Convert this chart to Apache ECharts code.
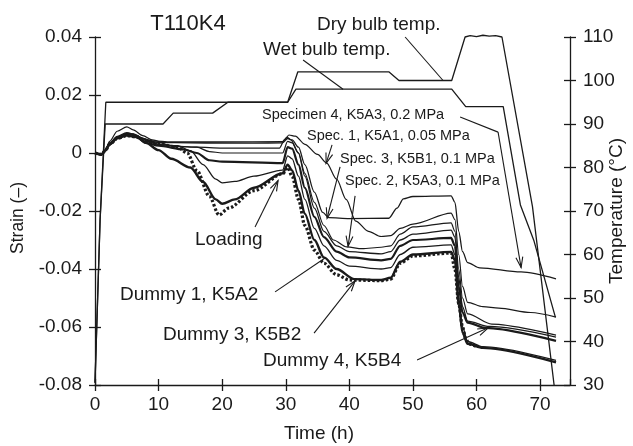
<!DOCTYPE html>
<html>
<head>
<meta charset="utf-8">
<script src="https://cdn.jsdelivr.net/npm/echarts@6/dist/echarts.min.js"></script>
<style>
  html, body { margin: 0; padding: 0; background: #fff; }
  #chart { width: 633px; height: 446px; }
</style>
</head>
<body>
<div id="chart"></div>
<script>
// ---- axis ticks ----
const timeTicks = [0, 10, 20, 30, 40, 50, 60, 70];
const strainTicks = [-0.08, -0.06, -0.04, -0.02, 0, 0.02, 0.04];
const tempTicks = [30, 40, 50, 60, 70, 80, 90, 100, 110];
const timeMax = 74.7;

// ---- temperature histories [time h, °C] ----
const dryBulb = [[0, 30.5], [0.8, 68], [1.7, 95], [30.3, 95], [31.9, 102], [46.2, 102], [47.8, 100],
  [56.1, 100], [58.2, 110], [59, 110.3], [60, 110.1], [61, 110.4], [62, 110.2], [63, 110.3], [64, 110],
  [68.8, 71], [72.2, 30]];
const wetBulb = [[0, 30.5], [0.8, 68], [1.6, 90], [10.7, 90], [12.3, 92.5], [18.5, 92.5], [20.9, 95],
  [30.3, 95], [31.6, 98], [56.1, 98], [58.3, 94], [64.2, 94], [66.9, 71.4], [69, 63.3], [72.4, 45.6]];

// ---- strain histories [time h, strain] ----
const spec3 = [[0, 0], [1, -0.0005], [1.6, 0.001], [2.3, 0.0035], [3.5, 0.0052], [5, 0.0062], [6, 0.0065],
  [7, 0.0055], [8.5, 0.0042], [10, 0.0036], [15, 0.0035], [20, 0.0034], [25, 0.0034], [29.5, 0.0035],
  [30.3, 0.005], [31, 0.0045], [32, 0.002], [33, -0.004], [34.5, -0.0135], [35.8, -0.0205], [36.8, -0.0223],
  [40, -0.0226], [46.2, -0.0225], [47.5, -0.019], [48.5, -0.0158], [50, -0.015], [56, -0.0148],
  [56.6, -0.017], [57.2, -0.027], [57.8, -0.034], [58.6, -0.0378], [60.5, -0.0396], [67, -0.041], [72.5, -0.0434]];
const spec1 = [[0, 0], [1, -0.0005], [1.6, 0.001], [2.3, 0.004], [3.5, 0.0075], [5, 0.009], [6, 0.008],
  [7.5, 0.006], [9, 0.0045], [12, 0.0025], [16, 0.002], [20, 0.0017], [29, 0.0017], [29.8, 0.0045],
  [30.5, 0.0062], [31.5, 0.0058], [33, 0.003], [35, -0.0005], [36.4, -0.0034], [38, -0.009], [39.5, -0.016],
  [41, -0.0235], [43, -0.027], [45, -0.0288], [46.5, -0.0285], [48, -0.026], [50, -0.0245], [56, -0.0207],
  [56.6, -0.023], [57.2, -0.035], [57.8, -0.046], [58.6, -0.0515], [61, -0.053], [63.5, -0.0535],
  [68.5, -0.055], [72.5, -0.0566]];
const spec2 = [[0, 0], [1, -0.0005], [1.6, 0.0008], [2.3, 0.003], [3.5, 0.005], [5, 0.0065], [6.5, 0.006],
  [8, 0.0045], [10, 0.003], [13, 0.0022], [16, 0.002], [18, 0.0005], [20, 0], [29.5, 0], [30.3, 0.004],
  [31, 0.0035], [32, 0], [33, -0.007], [34.5, -0.017], [36, -0.025], [37.5, -0.03], [39.6, -0.0324],
  [42, -0.033], [45, -0.0325], [46.5, -0.032], [48, -0.028], [50, -0.0255], [56, -0.0241], [56.6, -0.027],
  [57.2, -0.04], [57.8, -0.05], [58.6, -0.0555], [62.4, -0.059], [72.5, -0.0628]];
const specimen4 = [[0, 0], [1, -0.0005], [1.6, 0.001], [2.3, 0.0035], [3.5, 0.0055], [5, 0.0068], [6, 0.0066],
  [7.5, 0.005], [9, 0.0042], [12, 0.0038], [20, 0.0038], [29.5, 0.0039], [30.2, 0.0055], [30.8, 0.0045],
  [32, 0], [33, -0.008], [34.5, -0.019], [36, -0.027], [38, -0.032], [40, -0.034], [45, -0.0348],
  [46.5, -0.034], [48, -0.03], [50, -0.028], [56, -0.0266], [56.6, -0.029], [57.2, -0.043], [57.8, -0.053],
  [58.6, -0.058], [62, -0.0598], [72.5, -0.0635]];
const dummy4 = [[0, 0], [1, -0.0005], [1.6, 0.0008], [2.3, 0.003], [3.5, 0.005], [5, 0.006], [6.5, 0.0055],
  [8, 0.0035], [10, 0.0025], [14, 0.0012], [16, 0], [18, -0.0025], [20, -0.003], [29.5, -0.0035],
  [30.3, 0.002], [31, 0.0015], [32, -0.004], [33, -0.012], [34.5, -0.022], [36, -0.029], [38, -0.034],
  [40, -0.036], [45, -0.037], [46.5, -0.0365], [48, -0.032], [50, -0.03], [56, -0.0293], [56.6, -0.032],
  [57.2, -0.046], [57.8, -0.055], [58.6, -0.0585], [61.4, -0.0603], [72.5, -0.0648]];
const dummy1 = [[0, 0], [1, -0.0005], [1.6, 0.0008], [2.3, 0.003], [3.5, 0.0055], [5, 0.0065], [6.5, 0.006],
  [8, 0.004], [10, 0.003], [13, 0.0025], [15, 0.0008], [17, -0.004], [19, -0.009], [20, -0.0103],
  [22, -0.0098], [25, -0.008], [29.5, -0.0059], [30.3, -0.001], [31, -0.002], [32, -0.008], [33, -0.016],
  [34.5, -0.026], [36, -0.032], [38, -0.037], [40, -0.039], [45, -0.04], [46.5, -0.0395], [48, -0.035],
  [50, -0.0325], [56, -0.0317], [56.6, -0.035], [57.2, -0.05], [57.8, -0.06], [58.6, -0.065], [61, -0.0668],
  [72.5, -0.0715]];
const dummy3 = [[0, 0], [1, -0.0005], [1.6, 0.0008], [2.3, 0.003], [3.5, 0.0055], [5, 0.0068], [6.5, 0.006],
  [8, 0.0035], [10, 0.001], [12, -0.002], [15, -0.005], [17, -0.01], [19, -0.016], [20, -0.0175],
  [22, -0.016], [25, -0.012], [29.5, -0.007], [30.3, -0.004], [31, -0.006], [32, -0.013], [33, -0.021],
  [34.5, -0.03], [36, -0.036], [38, -0.04], [40.8, -0.0435], [45, -0.0438], [46.5, -0.043], [48, -0.0375],
  [50, -0.035], [56, -0.0341], [56.6, -0.037], [57.2, -0.052], [57.8, -0.062], [58.6, -0.0658], [61, -0.0672],
  [72.5, -0.0722]];
const dottedTrace = [[0, 0], [1, -0.0005], [1.6, 0.0008], [2.3, 0.003], [3.5, 0.005], [5, 0.006], [6.5, 0.0055],
  [8, 0.004], [10, 0.003], [13, 0.002], [14.5, 0], [16, -0.006], [18, -0.015], [19.5, -0.0214], [21, -0.019],
  [25, -0.013], [29.5, -0.0072], [30.3, -0.005], [31, -0.008], [32, -0.016], [33, -0.025], [34.5, -0.0335],
  [36, -0.038], [38, -0.042], [40, -0.0438], [45, -0.044], [46.5, -0.0435], [48, -0.038], [50, -0.0355],
  [56, -0.0345], [56.6, -0.04], [57.2, -0.052], [57.8, -0.06], [58.3, -0.064], [58.8, -0.0658], [60, -0.0668]];

// ---- leader lines [t1, y1, t2, y2, arrowhead] ----
const tempLeaders = [[48.77, 110, 54.74, 100, 0], [32.72, 104.7, 39.01, 98, 0]];
const strainLeaders = [
  [57.42, 0.0124, 63.39, 0.0072, 0], [63.39, 0.0072, 67.01, -0.0395, 1],
  [37.28, 0.0028, 36.34, -0.0036, 1],
  [38.54, -0.0048, 36.5, -0.0225, 1],
  [40.9, -0.0148, 39.8, -0.0322, 1],
  [25.17, -0.0255, 28.79, -0.0095, 1],
  [28.32, -0.0479, 36.18, -0.0362, 0],
  [34.45, -0.0621, 40.9, -0.0441, 1],
  [50.65, -0.0714, 61.82, -0.0603, 1]
];

const FONT = '"Liberation Sans", Arial, Helvetica, sans-serif';
const INK = '#1a1a1a';

// draws one straight leader, with an open arrowhead at its second end when flagged
function leaderRenderer(params, api) {
  const p1 = api.coord([api.value(0), api.value(1)]);
  const p2 = api.coord([api.value(2), api.value(3)]);
  const children = [{
    type: 'line',
    shape: { x1: p1[0], y1: p1[1], x2: p2[0], y2: p2[1] },
    style: { stroke: INK, lineWidth: 1.1 }
  }];
  if (api.value(4)) {
    const a = Math.atan2(p2[1] - p1[1], p2[0] - p1[0]);
    const L = 11, w = 0.32;
    children.push({
      type: 'polyline',
      shape: { points: [
        [p2[0] - L * Math.cos(a - w), p2[1] - L * Math.sin(a - w)],
        [p2[0], p2[1]],
        [p2[0] - L * Math.cos(a + w), p2[1] - L * Math.sin(a + w)]
      ] },
      style: { stroke: INK, fill: null, lineWidth: 1.1 }
    });
  }
  return { type: 'group', children };
}

function strainSeries(name, data, width, dashed) {
  return {
    name, type: 'line', xAxisIndex: 0, yAxisIndex: 0, data,
    showSymbol: false, symbol: 'none', smooth: 0.3, smoothMonotone: 'x',
    lineStyle: { color: INK, width, type: dashed ? [2.5, 2] : 'solid' },
    silent: true, z: 3
  };
}
function tempSeries(name, data) {
  return {
    name, type: 'line', xAxisIndex: 0, yAxisIndex: 1, data, clip: false,
    showSymbol: false, symbol: 'none',
    lineStyle: { color: INK, width: 1.3 }, silent: true, z: 3
  };
}

const fmtStrain = v => (Math.abs(v) < 1e-9 ? '0' : v.toFixed(2));
const axisCommon = {
  type: 'value', splitLine: { show: false }, axisPointer: { show: false }
};
const labelStyle = { color: INK, fontFamily: FONT, fontSize: 19 };

const option = {
  animation: false,
  backgroundColor: '#fff',
  grid: { left: 95, right: 63, top: 37, bottom: 61, containLabel: false, outerBoundsMode: 'none' },
  xAxis: [
    Object.assign({}, axisCommon, {
      position: 'bottom', min: timeTicks[0], max: timeMax, interval: 10,
      axisLine: { show: true, onZero: false, lineStyle: { color: INK, width: 1.3 } },
      axisTick: { show: true, inside: false, length: 6, lineStyle: { color: INK, width: 1.3 } },
      axisLabel: Object.assign({}, labelStyle, { margin: 10, showMaxLabel: false,
        formatter: v => (timeTicks.includes(v) ? String(v) : '') })
    }),
    Object.assign({}, axisCommon, {
      position: 'bottom', min: timeTicks[0], max: timeMax, interval: 10,
      axisLine: { show: false, onZero: false },
      axisTick: { show: true, inside: true, length: 6, lineStyle: { color: INK, width: 1.3 } },
      axisLabel: { show: false }
    })
  ],
  yAxis: [
    Object.assign({}, axisCommon, {
      position: 'left', min: strainTicks[0], max: strainTicks[strainTicks.length - 1], interval: 0.02,
      axisLine: { show: true, onZero: false, lineStyle: { color: INK, width: 1.3 } },
      axisTick: { show: true, inside: false, length: 6, lineStyle: { color: INK, width: 1.3 } },
      axisLabel: Object.assign({}, labelStyle, { margin: 13, formatter: fmtStrain })
    }),
    Object.assign({}, axisCommon, {
      position: 'right', min: tempTicks[0], max: tempTicks[tempTicks.length - 1], interval: 10,
      axisLine: { show: true, onZero: false, lineStyle: { color: INK, width: 1.3 } },
      axisTick: { show: true, inside: false, length: 6, lineStyle: { color: INK, width: 1.3 } },
      axisLabel: Object.assign({}, labelStyle, { margin: 13 })
    }),
    Object.assign({}, axisCommon, {
      position: 'left', offset: 0, min: strainTicks[0], max: strainTicks[strainTicks.length - 1], interval: 0.02,
      axisLine: { show: false, onZero: false },
      axisTick: { show: true, inside: true, length: 6, lineStyle: { color: INK, width: 1.3 } },
      axisLabel: { show: false }
    }),
    Object.assign({}, axisCommon, {
      position: 'right', offset: 0, min: tempTicks[0], max: tempTicks[tempTicks.length - 1], interval: 10,
      axisLine: { show: false, onZero: false },
      axisTick: { show: true, inside: true, length: 6, lineStyle: { color: INK, width: 1.3 } },
      axisLabel: { show: false }
    })
  ],
  series: [
    tempSeries('Dry bulb temp.', dryBulb),
    tempSeries('Wet bulb temp.', wetBulb),
    strainSeries('Spec. 3, K5B1, 0.1 MPa', spec3, 1.3),
    strainSeries('Spec. 1, K5A1, 0.05 MPa', spec1, 1.2),
    strainSeries('Spec. 2, K5A3, 0.1 MPa', spec2, 1.2),
    strainSeries('Specimen 4, K5A3, 0.2 MPa', specimen4, 1.3),
    strainSeries('Dummy 4, K5B4', dummy4, 2.2),
    strainSeries('Dummy 1, K5A2', dummy1, 1.3),
    strainSeries('Dummy 3, K5B2', dummy3, 2.4),
    strainSeries('dotted', dottedTrace, 3.2, true),
    {
      type: 'custom', xAxisIndex: 0, yAxisIndex: 1, data: tempLeaders,
      encode: { x: [0, 2], y: [1, 3] }, renderItem: leaderRenderer, clip: false, silent: true, z: 4
    },
    {
      type: 'custom', xAxisIndex: 0, yAxisIndex: 0, data: strainLeaders,
      encode: { x: [0, 2], y: [1, 3] }, renderItem: leaderRenderer, clip: false, silent: true, z: 4
    }
  ],
  graphic: [
    { type: 'text', x: 188, y: 24, style: { text: 'T110K4', font: '22px ' + FONT, fill: INK, textAlign: 'center', textVerticalAlign: 'middle' } },
    { type: 'text', x: 317, y: 25, style: { text: 'Dry bulb temp.', font: '19px ' + FONT, fill: INK, textAlign: 'left', textVerticalAlign: 'middle' } },
    { type: 'text', x: 263, y: 50, style: { text: 'Wet bulb temp.', font: '19px ' + FONT, fill: INK, textAlign: 'left', textVerticalAlign: 'middle' } },
    { type: 'text', x: 262, y: 115, style: { text: 'Specimen 4, K5A3, 0.2 MPa', font: '14.5px ' + FONT, fill: INK, textAlign: 'left', textVerticalAlign: 'middle' } },
    { type: 'text', x: 307, y: 136, style: { text: 'Spec. 1, K5A1, 0.05 MPa', font: '14.5px ' + FONT, fill: INK, textAlign: 'left', textVerticalAlign: 'middle' } },
    { type: 'text', x: 340, y: 159, style: { text: 'Spec. 3, K5B1, 0.1 MPa', font: '14.5px ' + FONT, fill: INK, textAlign: 'left', textVerticalAlign: 'middle' } },
    { type: 'text', x: 345, y: 181, style: { text: 'Spec. 2, K5A3, 0.1 MPa', font: '14.5px ' + FONT, fill: INK, textAlign: 'left', textVerticalAlign: 'middle' } },
    { type: 'text', x: 195, y: 240, style: { text: 'Loading', font: '19px ' + FONT, fill: INK, textAlign: 'left', textVerticalAlign: 'middle' } },
    { type: 'text', x: 120, y: 295, style: { text: 'Dummy 1, K5A2', font: '19px ' + FONT, fill: INK, textAlign: 'left', textVerticalAlign: 'middle' } },
    { type: 'text', x: 163, y: 335, style: { text: 'Dummy 3, K5B2', font: '19px ' + FONT, fill: INK, textAlign: 'left', textVerticalAlign: 'middle' } },
    { type: 'text', x: 263, y: 361, style: { text: 'Dummy 4, K5B4', font: '19px ' + FONT, fill: INK, textAlign: 'left', textVerticalAlign: 'middle' } },
    { type: 'text', x: 319, y: 434, style: { text: 'Time (h)', font: '19px ' + FONT, fill: INK, textAlign: 'center', textVerticalAlign: 'middle' } },
    { type: 'text', x: 18, y: 218, rotation: Math.PI / 2, style: { text: 'Strain (–)', font: '17.5px ' + FONT, fill: INK, textAlign: 'center', textVerticalAlign: 'middle' } },
    { type: 'text', x: 617, y: 211, rotation: Math.PI / 2, style: { text: 'Temperature (°C)', font: '19px ' + FONT, fill: INK, textAlign: 'center', textVerticalAlign: 'middle' } }
  ]
};

const chart = echarts.init(document.getElementById('chart'), null, { renderer: 'canvas' });
chart.setOption(option);
</script>
</body>
</html>
